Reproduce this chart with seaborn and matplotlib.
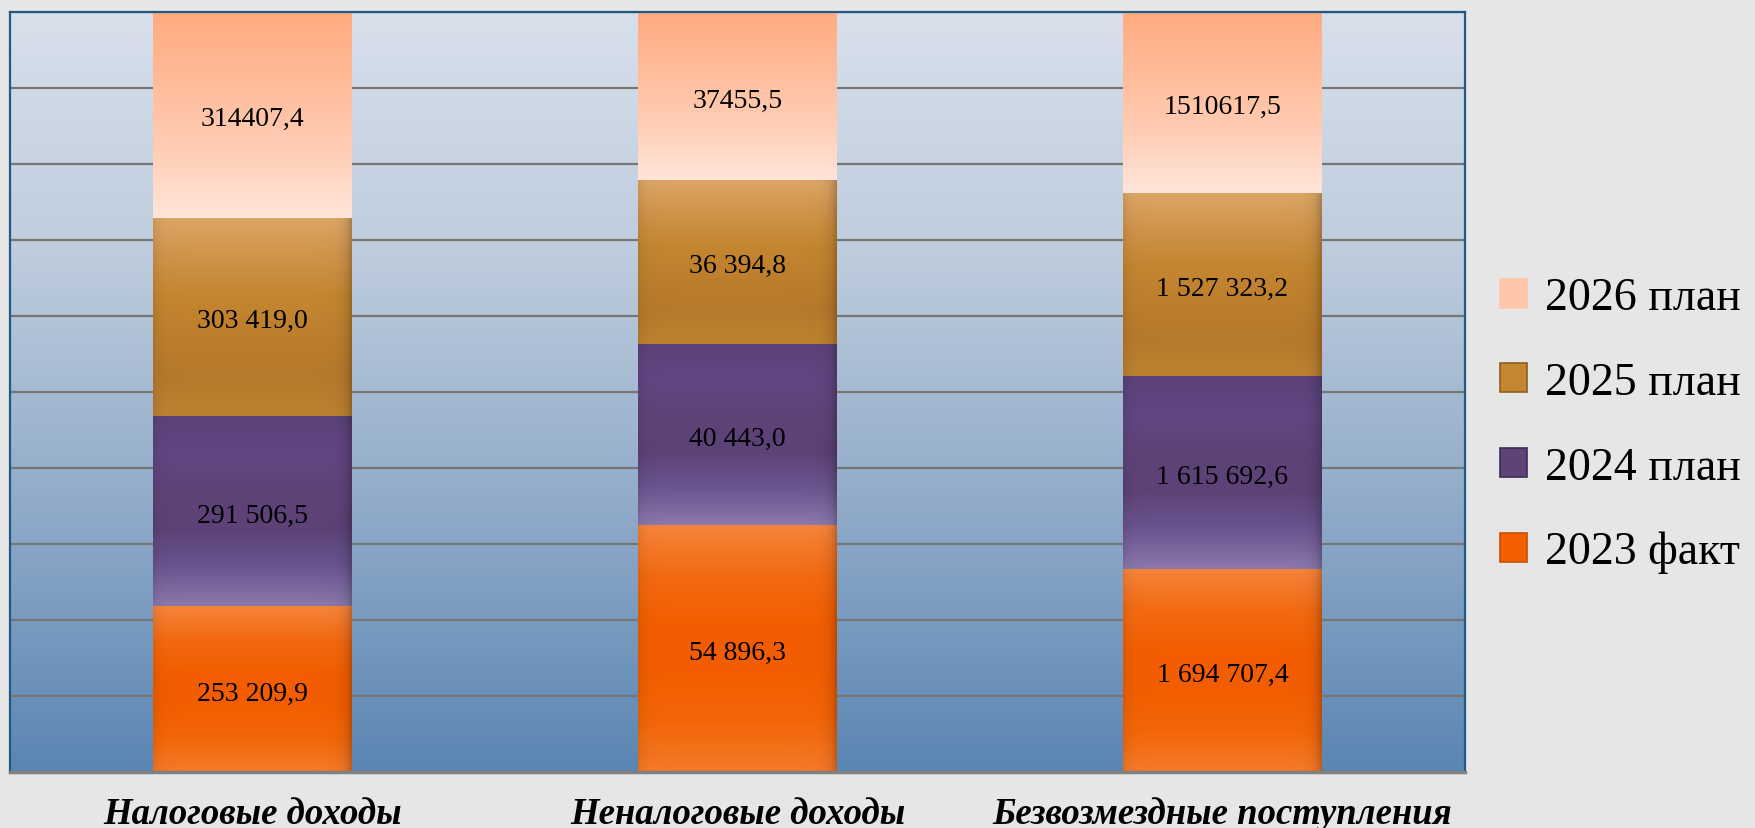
import matplotlib
matplotlib.use("Agg")
import matplotlib.pyplot as plt
from matplotlib.colors import LinearSegmentedColormap
from matplotlib.patches import Patch
import numpy as np
import pandas as pd
import seaborn as sns

sns.set_style("white")
plt.rcParams["font.family"] = ["Liberation Serif", "DejaVu Serif"]
plt.rcParams["text.color"] = "black"
plt.rcParams["xtick.color"] = "black"

categories = ["Налоговые доходы", "Неналоговые доходы", "Безвозмездные поступления"]
series = ["2023 факт", "2024 план", "2025 план", "2026 план"]
fact_2023 = [253209.9, 54896.3, 1694707.4]
plan_2024 = [291506.5, 40443.0, 1615692.6]
plan_2025 = [303419.0, 36394.8, 1527323.2]
plan_2026 = [314407.4, 37455.5, 1510617.5]

# top -> bottom colour profiles of each segment
gradients = {
    "2023 факт": ["#f6843a", "#f36a12", "#f25e00", "#f25e00", "#f36608", "#f57a2a"],
    "2024 план": ["#5b427a", "#614682", "#5e4379", "#5c4277", "#6b5590", "#8b78ac"],
    "2025 план": ["#dca665", "#d0934a", "#c48630", "#bd7f2d", "#b7792b", "#bd8231"],
    "2026 план": ["#ffab80", "#ffbb99", "#ffcdb5", "#ffe5da"],
}
solid = {"2023 факт": "#f25e00", "2024 план": "#5e4379",
         "2025 план": "#c48630", "2026 план": "#ffc6aa"}
edges = {"2023 факт": "#c95200", "2024 план": "#3f2c57",
         "2025 план": "#8f5f20", "2026 план": "#ffc6aa"}

df = pd.DataFrame({"category": categories, "2023 факт": fact_2023,
                   "2024 план": plan_2024, "2025 план": plan_2025,
                   "2026 план": plan_2026})
total = df[series].sum(axis=1)
share = df[series].div(total, axis=0) * 100


def fmt(v, sep):
    return f"{v:,.1f}".replace(",", sep).replace(".", ",")


def bar_image(name, nx=120, ny=200):
    cmap = LinearSegmentedColormap.from_list(name, gradients[name])
    col = cmap(np.linspace(0, 1, ny))[:, :3]
    xs = np.linspace(0, 1, nx)
    if name == "2026 план":
        shade = np.ones(nx)
    else:
        shade = 1 - 0.22 * np.exp(-(1 - xs) / 0.03) - 0.08 * np.exp(-xs / 0.03)
    img = col[:, None, :] * shade[None, :, None]
    return np.clip(img, 0, 1)


fig = plt.figure(figsize=(17.56, 8.29), dpi=100, facecolor="#e6e6e6")
ax = fig.add_axes([0.0057, 0.0676, 0.8285, 0.9167])

bg = LinearSegmentedColormap.from_list("bg", ["#5a86b3", "#8ea9c8", "#bccbdc", "#d8e0eb"])
ax.imshow(np.linspace(0, 1, 256)[:, None], cmap=bg, origin="lower",
          extent=[0, 1, 0, 1], transform=ax.transAxes, aspect="auto", zorder=0)

bottom = np.zeros(len(categories))
for name in series:
    n_before = len(ax.patches)
    sns.barplot(x=categories, y=share[name].values, bottom=bottom.copy(),
                color=solid[name], width=0.41, ax=ax, zorder=2,
                linewidth=0, order=categories)
    img = bar_image(name)
    for p in ax.patches[n_before:]:
        x0, y0, w, h = p.get_x(), p.get_y(), p.get_width(), p.get_height()
        ax.imshow(img, extent=[x0, x0 + w, y0, y0 + h], origin="upper",
                  aspect="auto", zorder=2.5, interpolation="bilinear")
    sep = "" if name == "2026 план" else " "
    for i, v in enumerate(df[name]):
        ax.text(i, bottom[i] + share[name].iloc[i] / 2 - 0.5, fmt(v, sep),
                ha="center", va="center", fontsize=20, color="black", zorder=4)
    bottom += share[name].values

ax.set_xlim(-0.5, 2.5)
ax.set_ylim(0, 100)
ax.set_yticks(np.arange(0, 101, 10))
ax.set_yticklabels([])
ax.tick_params(axis="y", length=0)
ax.yaxis.grid(True, color="#767676", linewidth=1.6)
ax.xaxis.grid(False)
ax.set_axisbelow(True)
for gl in ax.get_ygridlines():
    gl.set_zorder(1)

ax.set_xticks(range(len(categories)))
ax.set_xticklabels(categories, fontsize=26.5, fontweight="bold",
                   fontstyle="italic", color="black")
ax.set_xticks([-0.5, 0.5, 1.5, 2.5], minor=True)
ax.tick_params(axis="x", which="major", length=0, pad=17)
ax.tick_params(axis="x", which="minor", length=10, width=1.5, color="#808080")
ax.set_xlabel("")
ax.set_ylabel("")

for side in ["left", "top", "right"]:
    ax.spines[side].set_color("#1f5a85")
    ax.spines[side].set_linewidth(1.6)
ax.spines["bottom"].set_color("#808080")
ax.spines["bottom"].set_linewidth(2.5)

handles = [Patch(facecolor=solid[s], edgecolor=edges[s], linewidth=1.2)
           for s in reversed(series)]
leg = fig.legend(handles, list(reversed(series)), loc="center left",
                 bbox_to_anchor=(0.854, 1 - 426 / 829), frameon=False, fontsize=33,
                 handlelength=0.6, handleheight=0.6, handletextpad=0.4,
                 labelspacing=0.92, borderpad=0, borderaxespad=0)
for t in leg.get_texts():
    t.set_color("black")

fig.savefig("out.png", dpi=100, facecolor=fig.get_facecolor())
